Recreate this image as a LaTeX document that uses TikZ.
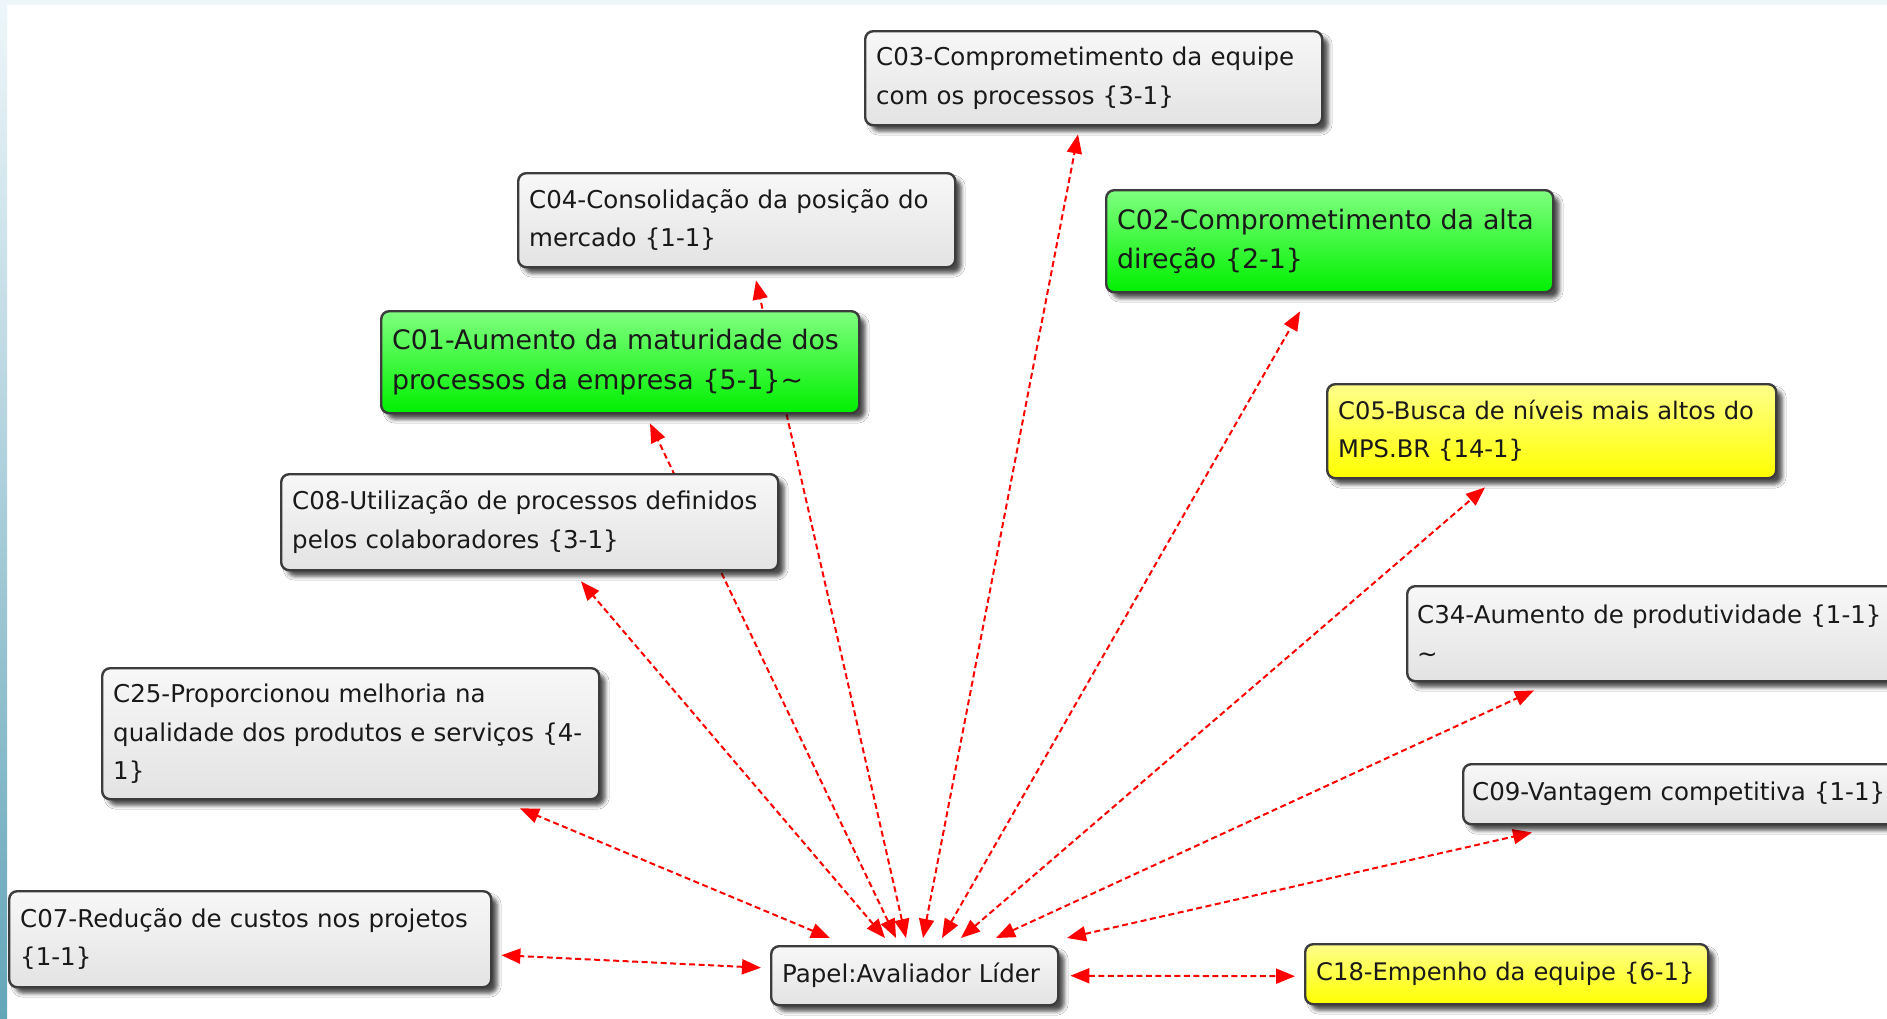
\documentclass[tikz,border=0pt]{standalone}
\usepackage{fontspec}
\setmainfont{DejaVu Sans}
\usetikzlibrary{arrows.meta,backgrounds,shadows.blur}

\definecolor{slideedge}{RGB}{100,165,185}
\definecolor{slidetop}{RGB}{238,246,250}
\definecolor{boxline}{RGB}{60,60,60}

\tikzset{
	box/.style={draw=boxline, line width=2.4pt, rounded corners=8pt, anchor=north west,
		align=left, inner xsep=11pt, inner ysep=0pt, text=black!90,
		font=\fontsize{24.5}{38.5}\selectfont,
		top color=black!3, bottom color=black!11,
		blur shadow={shadow xshift=6pt, shadow yshift=-6pt, shadow blur radius=4pt, shadow opacity=70}},
	greenbox/.style={box, font=\fontsize{26.8}{39.5}\selectfont,
		top color=green!50!white, bottom color=green!94!black},
	yellowbox/.style={box, font=\fontsize{24.2}{38}\selectfont,
		top color=yellow!45!white, bottom color=yellow},
	link/.style={red, line width=2pt, dash pattern=on 6pt off 3.5pt,
		>={Triangle[length=19pt,width=15pt]}, <->}
}

\begin{document}
\begin{tikzpicture}[x=1pt,y=-1pt]
	\useasboundingbox (0,0) rectangle (1887,1018);
	\clip (0,0) rectangle (1887,1018);

	% outer ring of effects
	\node[box, text width=435pt, minimum height=94pt] (c03) at (864,30)
		{C03-Comprometimento da equipe\\com os processos \{3-1\}};
	\node[box, text width=415pt, minimum height=94pt] (c04) at (517,172)
		{C04-Consolidação da posição do\\mercado \{1-1\}};
	\node[greenbox, text width=425pt, minimum height=102pt] (c02) at (1105,189)
		{C02-Comprometimento da alta\\direção \{2-1\}};
	\node[greenbox, text width=456pt, minimum height=102pt] (c01) at (380,310)
		{C01-Aumento da maturidade dos\\processos da empresa \{5-1\}\textasciitilde};
	\node[yellowbox, text width=427pt, minimum height=94pt] (c05) at (1326,383)
		{C05-Busca de níveis mais altos do\\MPS.BR \{14-1\}};
	\node[box, text width=475pt, minimum height=96pt] (c08) at (280,473)
		{C08-Utilização de processos definidos\\pelos colaboradores \{3-1\}};
	\node[box, text width=480pt, inner xsep=10pt, minimum height=95pt] (c34) at (1406,585)
		{C34-Aumento de produtividade \{1-1\}\\\textasciitilde};
	\node[box, text width=475pt, minimum height=131pt] (c25) at (101,667)
		{C25-Proporcionou melhoria na\\qualidade dos produtos e serviços \{4-\\1\}};
	\node[box, text width=480pt, inner xsep=9pt, minimum height=60pt] (c09) at (1462,763)
		{C09-Vantagem competitiva \{1-1\}};
	\node[box, text width=460pt, minimum height=96pt] (c07) at (8,890)
		{C07-Redução de custos nos projetos\\\{1-1\}};

	% role
	\node[box, text width=265pt, minimum height=59pt] (papel) at (770,945)
		{Papel:Avaliador Líder};
	\node[yellowbox, text width=381pt, minimum height=60pt] (c18) at (1304,943)
		{C18-Empenho da equipe \{6-1\}};

	\begin{scope}[on background layer]
		\fill[white] (0,0) rectangle (1887,1018);
		\fill[slidetop] (0,0) rectangle (1887,5);
		\shade[top color=slidetop, bottom color=slideedge] (0,0) rectangle (7,1018);
		\foreach \n/\a/\b/\c in {c25/60/419/8, c08/115/301/10, c01/126/270/9, c04/136/239/12,
			c03/153/214/8, c02/172/195/18, c05/191/159/8, c34/226/128/8, c09/297/70/7}
		\draw[link] ([shift={(\a,-7)}]papel.north west) -- ([shift={(\b,\c)}]\n.south west);
		\draw[link] ([shift={(-9,-8)}]papel.west) -- ([shift={(9,16)}]c07.east);
		\draw[link] ([shift={(11,0)}]papel.east) -- ([shift={(-9,2)}]c18.west);
	\end{scope}
\end{tikzpicture}
\end{document}
